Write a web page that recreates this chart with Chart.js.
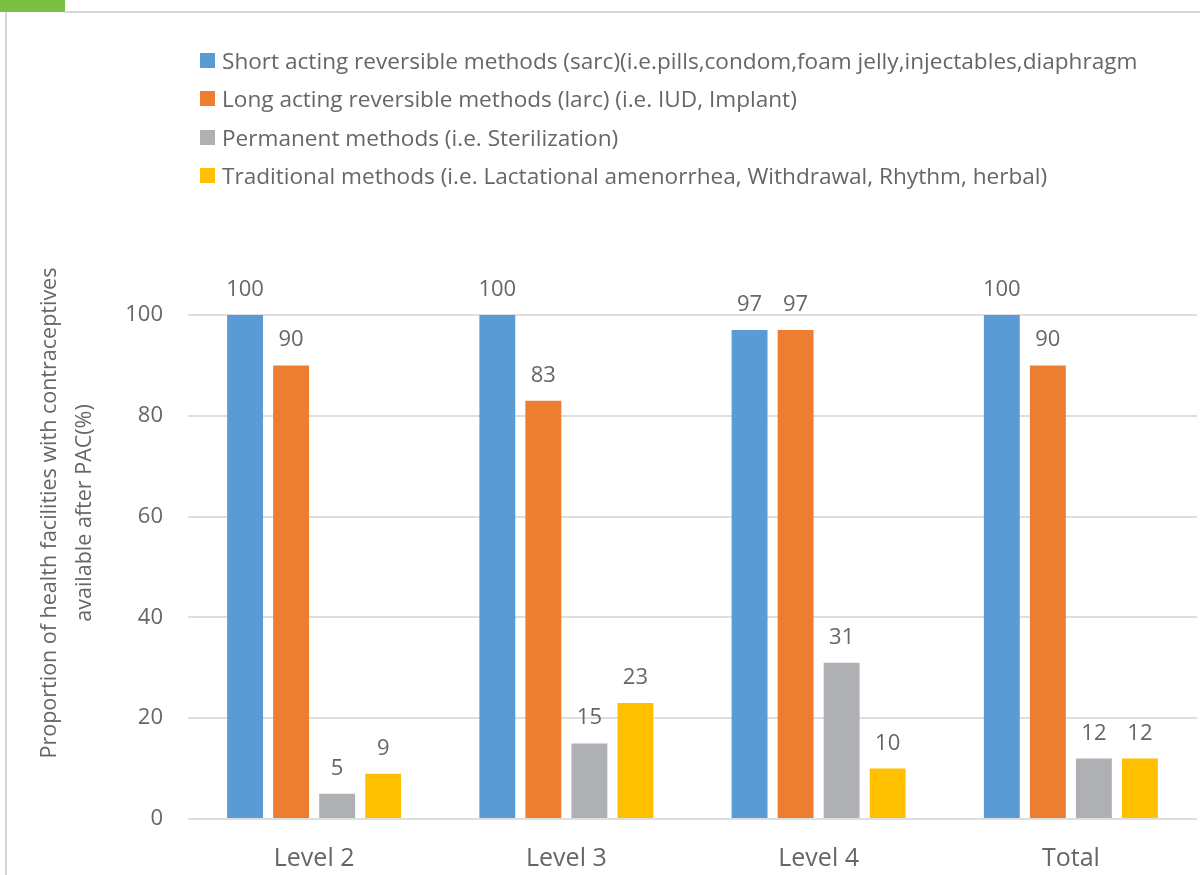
<!DOCTYPE html>
<html>
<head>
<meta charset="utf-8">
<script src="https://cdn.jsdelivr.net/npm/chart.js@4"></script>
<style>
  body { margin: 0; background: #fff; font-family: "Open Sans", sans-serif; }
  #wrap { position: relative; width: 1200px; height: 875px; overflow: hidden; }
  #chart { position: absolute; left: 0; top: 0; }
  .frame-top { position: absolute; left: 65px; top: 11px; width: 1135px; height: 2px; background: #d6d6d6; }
  .frame-left { position: absolute; left: 5px; top: 12px; width: 2px; height: 863px; background: #d6d6d6; }
  .green { position: absolute; left: 0; top: 0; width: 65px; height: 12px; background: #7ac143; }
  #legend { position: absolute; left: 200px; top: 41px; color: #666; font-size: 22.6px; }
  #legend .row { height: 38.5px; display: flex; align-items: center; white-space: nowrap; }
  #legend .box { width: 15px; height: 15px; margin-right: 7px; }
  #ytitle { position: absolute; width: 600px; height: 70px; left: -235.5px; top: 478px;
    transform: rotate(-90deg); text-align: center; line-height: 35px; color: #666; font-size: 21.5px; }
</style>
</head>
<body>
<div id="wrap">
  <canvas id="chart" width="1200" height="875"></canvas>
  <div class="green"></div>
  <div class="frame-top"></div>
  <div class="frame-left"></div>
  <div id="legend"></div>
  <div id="ytitle">Proportion of health facilities with contraceptives<br>available after PAC(%)</div>
</div>
<script>
// categorias e valores
const categories = ['Level 2', 'Level 3', 'Level 4', 'Total'];
const sarcValues = [100, 100, 97, 100];
const larcValues = [90, 83, 97, 90];
const permanentValues = [5, 15, 31, 12];
const traditionalValues = [9, 23, 10, 12];
const seriesLabels = [
  'Short acting reversible methods (sarc)(i.e.pills,condom,foam jelly,injectables,diaphragm',
  'Long acting reversible methods (larc) (i.e. IUD, Implant)',
  'Permanent methods (i.e. Sterilization)',
  'Traditional methods (i.e. Lactational amenorrhea, Withdrawal, Rhythm, herbal)'
];
const seriesColors = ['#5b9bd5', '#ed7d31', '#afb0b4', '#ffc000'];
const seriesValues = [sarcValues, larcValues, permanentValues, traditionalValues];

const textColor = '#666';
const fontFamily = '"Open Sans", sans-serif';

// rótulos de valor acima das barras
const valueLabels = {
  id: 'valueLabels',
  afterDatasetsDraw(chart) {
    const ctx = chart.ctx;
    ctx.save();
    ctx.font = '22px ' + fontFamily;
    ctx.fillStyle = textColor;
    ctx.textAlign = 'center';
    ctx.textBaseline = 'alphabetic';
    chart.data.datasets.forEach((ds, i) => {
      chart.getDatasetMeta(i).data.forEach((bar, j) => {
        ctx.fillText(ds.data[j], bar.x, bar.y - 19);
      });
    });
    ctx.restore();
  }
};

const chart = new Chart(document.getElementById('chart'), {
  type: 'bar',
  data: {
    labels: categories,
    datasets: seriesValues.map((vals, i) => ({
      label: seriesLabels[i],
      data: vals,
      backgroundColor: seriesColors[i],
      categoryPercentage: 0.73,
      barPercentage: 0.78,
    })),
  },
  options: {
    responsive: false,
    animation: false,
    layout: { padding: { top: 315, right: 3, bottom: 0, left: 0 } },
    plugins: { legend: { display: false }, tooltip: { enabled: false } },
    scales: {
      x: {
        grid: { display: false, drawTicks: false },
        border: { display: false },
        ticks: { color: textColor, font: { family: fontFamily, size: 25 }, padding: 25 },
        afterFit(scale) { scale.height = 56; },
      },
      y: {
        min: 0,
        max: 100,
        ticks: { stepSize: 20, color: textColor, font: { family: fontFamily, size: 22 }, padding: 25 },
        grid: { color: '#dedede', lineWidth: 2, drawTicks: false },
        border: { display: false },
        afterFit(scale) { scale.width = 188; },
      },
    },
  },
  plugins: [valueLabels],
});

// legenda em HTML, uma linha por série
const legend = document.getElementById('legend');
chart.data.datasets.forEach(ds => {
  const row = document.createElement('div');
  row.className = 'row';
  row.innerHTML = '<span class="box" style="background:' + ds.backgroundColor + '"></span><span>' + ds.label + '</span>';
  legend.appendChild(row);
});
</script>
</body>
</html>
